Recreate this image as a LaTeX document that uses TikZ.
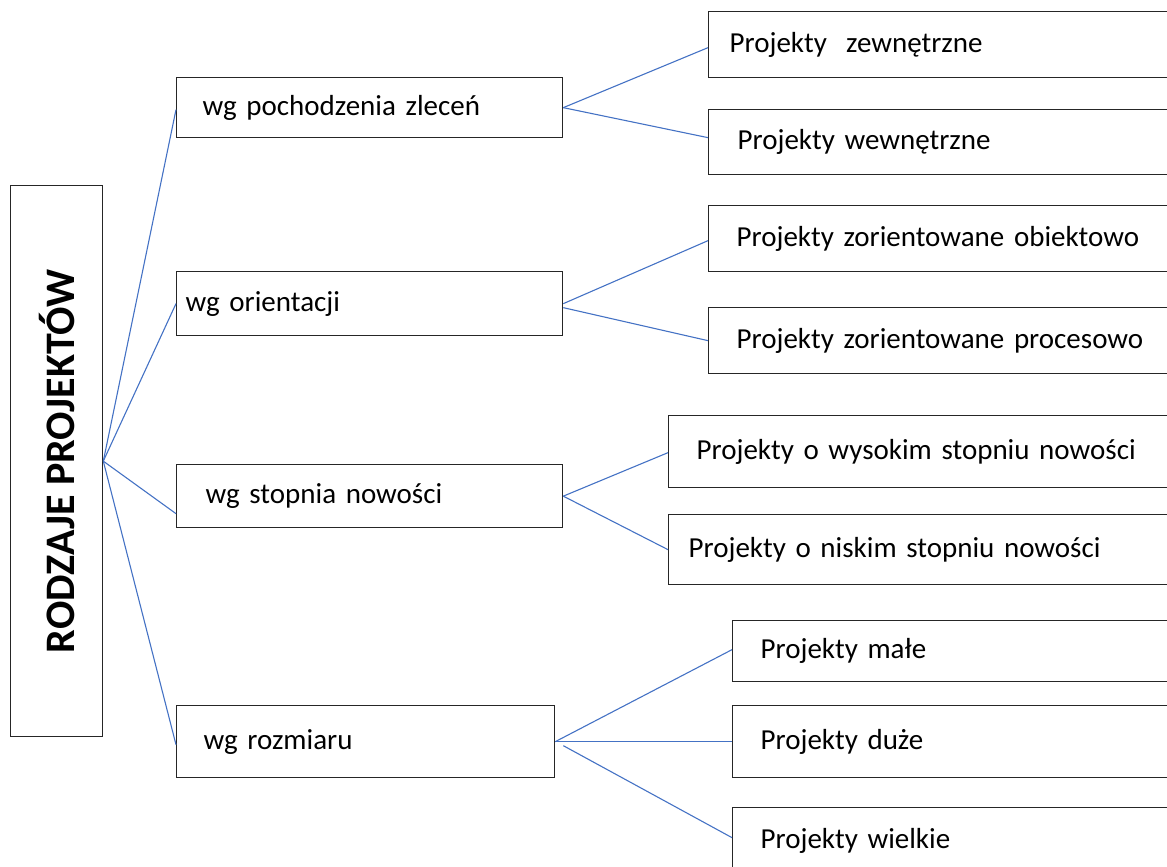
\documentclass[tikz,border=0pt]{standalone}
\usepackage{fontspec}
\setmainfont{Carlito}
\usetikzlibrary{calc}

\definecolor{linkblue}{RGB}{68,114,196}
\definecolor{boxline}{RGB}{38,38,38}

\tikzset{
  box/.style={draw=boxline, line width=1.3pt, rectangle, anchor=north west,
    inner ysep=0pt, align=left, font=\fontsize{29}{34}\selectfont},
  link/.style={draw=linkblue, line width=1.1pt},
}

\begin{document}
\begin{tikzpicture}[x=1pt, y=-1pt]
\useasboundingbox (0,0) rectangle (1167,867);

% root box with vertical title
\node[box, minimum width=92pt, minimum height=551pt, inner sep=0pt, align=center]
  (root) at (10,185) {\rotatebox{90}{\fontsize{42}{48}\selectfont\bfseries RODZAJE PROJEKTÓW}};

% criteria
\node[box, minimum width=386pt, minimum height=60pt, inner xsep=26pt, text width=334pt] (m1) at (176,77) {wg pochodzenia zleceń};
\node[box, minimum width=386pt, minimum height=64pt, inner xsep=9pt, text width=368pt] (m2) at (176,271) {wg orientacji};
\node[box, minimum width=386pt, minimum height=63pt, inner xsep=29pt, text width=328pt] (m3) at (176,464) {wg stopnia nowości};
\node[box, minimum width=378pt, minimum height=72pt, inner xsep=27pt, text width=324pt] (m4) at (176,705) {wg rozmiaru};

% project types
\node[box, minimum width=482pt, minimum height=66pt, inner xsep=21pt, text width=440pt] (r1) at (708,11) {Projekty\ \ zewnętrzne};
\node[box, minimum width=482pt, minimum height=65pt, inner xsep=29pt, text width=424pt] (r2) at (708,109) {Projekty wewnętrzne};
\node[box, minimum width=482pt, minimum height=66pt, inner xsep=28pt, text width=426pt] (r3) at (708,205) {Projekty zorientowane obiektowo};
\node[box, minimum width=482pt, minimum height=66pt, inner xsep=28pt, text width=426pt] (r4) at (708,307) {Projekty zorientowane procesowo};
\node[box, minimum width=522pt, minimum height=72pt, inner xsep=28pt, text width=466pt] (r5) at (668,415) {Projekty o wysokim stopniu nowości};
\node[box, minimum width=522pt, minimum height=70pt, inner xsep=20pt, text width=482pt] (r6) at (668,514) {Projekty o niskim stopniu nowości};
\node[box, minimum width=458pt, minimum height=61pt, inner xsep=28pt, text width=402pt] (r7) at (732,620) {Projekty małe};
\node[box, minimum width=458pt, minimum height=72pt, inner xsep=28pt, text width=402pt] (r8) at (732,705) {Projekty duże};
\node[box, minimum width=458pt, minimum height=66pt, inner xsep=28pt, text width=402pt] (r9) at (732,807) {Projekty wielkie};

% root to criteria
\draw[link] (root.east) -- ([yshift=-2pt]m1.west);
\draw[link] (root.east) -- (m2.west);
\draw[link] (root.east) -- ([yshift=-17.5pt]m3.west);
\draw[link] (root.east) -- ([yshift=-3pt]m4.west);

% criteria to project types
\draw[link] (m1.east) -- ([yshift=-3pt]r1.west);
\draw[link] (m1.east) -- ([yshift=4.5pt]r2.west);
\draw[link] (m2.east) -- ([yshift=-2pt]r3.west);
\draw[link] ([yshift=-4pt]m2.east) -- (r4.west);
\draw[link] (m3.east) -- ([yshift=-1pt]r5.west);
\draw[link] (m3.east) -- (r6.west);
\draw[link] (m4.east) -- ([yshift=1.5pt]r7.west);
\draw[link] (m4.east) -- (r8.west);
\draw[link] ([xshift=8pt,yshift=-4pt]m4.east) -- ([yshift=3pt]r9.west);
\end{tikzpicture}
\end{document}
